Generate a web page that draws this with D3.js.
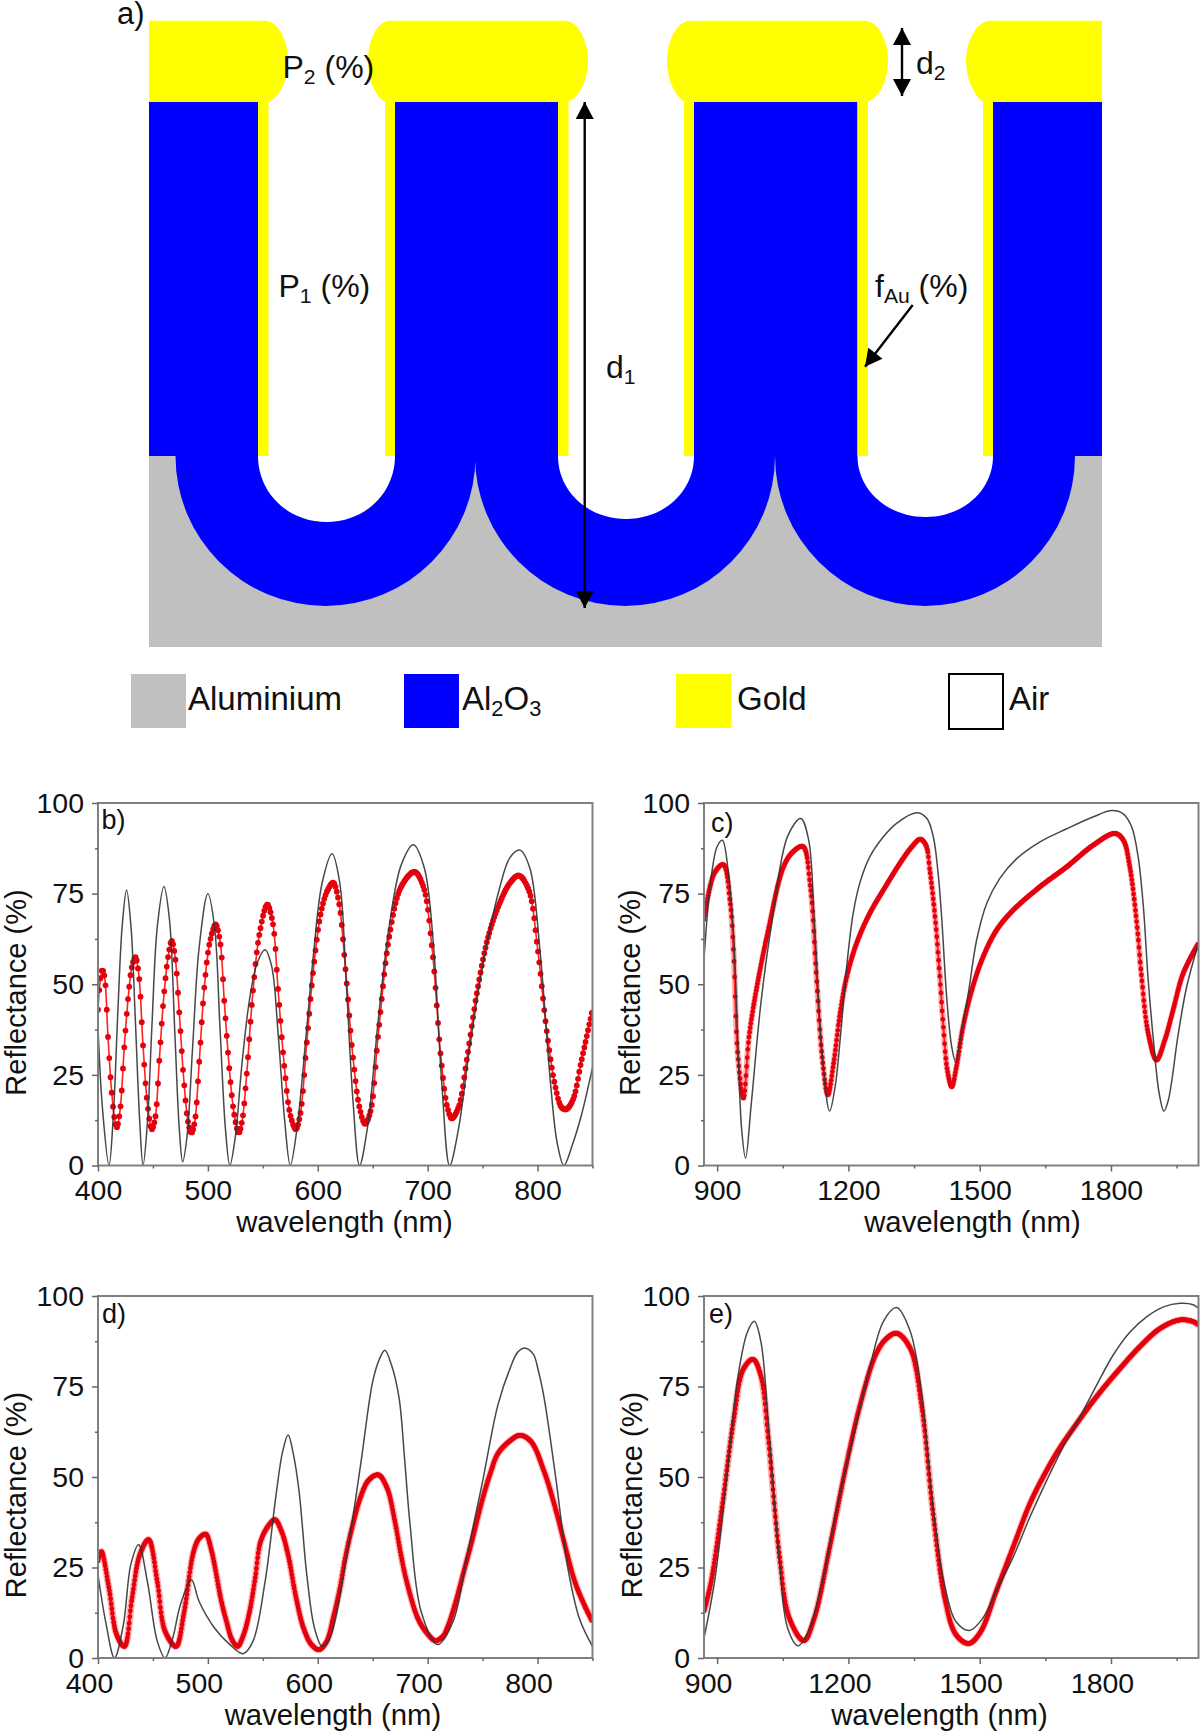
<!DOCTYPE html>
<html><head><meta charset="utf-8">
<script src="https://cdn.jsdelivr.net/npm/d3@7"></script>
<style>
html,body{margin:0;padding:0;background:#fff}
svg{display:block}
text{font-family:"Liberation Sans",Arial,sans-serif;fill:#111}
</style></head><body>
<svg id="c" width="1200" height="1735"></svg>
<script>
// ---- values: [wavelength nm, reflectance %]
const bBlack=[[400,38],[404,16],[410,0],[414,14],[418,42],[422,66],[426,76],[430,66],[434,40],[438,12],[441,0],[445,12],[449,38],[454,66],[460,77],[465,68],[470,36],[474,10],[477,1],[481,8],[486,32],[492,60],[500,75],[506,66],[511,38],[516,10],[520,0],[525,8],[531,28],[538,46],[545,56],[552,59.5],[558,55],[564,36],[570,12],[575,0],[581,10],[590,38],[596,58],[604,78],[613,86],[620,78],[626,50],[632,18],[638,0],[645,10],[655,40],[665,66],[676,83],[687,88.5],[697,82],[705,62],[713,22],[720,0],[728,10],[738,32],[750,55],[765,76],[775,85],[784,87],[793,82],[802,60],[812,22],[818,6],[824,0],[832,6],[840,14],[850,27]];
const bRed=[[400,43],[402,51],[404,54],[406,52],[409,36],[412,22],[415,13],[417,10.5],[420,15],[424,33],[428,48],[431,55],[434,57.5],[437,53],[441,33],[445,17],[449,10],[452,13],[456,30],[460,47],[464,58],[467,62],[470,58],[474,42],[478,24],[482,12],[485,9],[488,12],[492,28],[497,50],[502,62],[507,66.5],[511,62],[515,45],[520,25],[524,14],[528,9],[531,12],[535,24],[541,48],[547,64],[554,72],[559,67],[564,48],[570,26],[575,14],[580,10],[584,14],[590,34],[596,54],[603,70],[609,76],[614,78],[619,73],[625,55],[632,30],[638,16],[643,11.5],[648,15],[655,36],[665,63],[676,77],[688,81],[696,77],[704,60],[712,30],[718,16],[722,13],[728,16],[736,30],[745,48],[755,63],[765,72],[775,78],[783,80],[792,76],[800,60],[808,38],[816,22],[822,16],[826,15.5],[832,18],[840,29],[850,43]];
const cBlack=[[870,57],[885,78],[900,88],[912,89.7],[925,81.6],[938,63],[947,35.6],[956,10],[965,2],[978,17],[1000,44.8],[1026,67.8],[1061,90.8],[1091,95.7],[1109,89.9],[1122,67.8],[1140,31],[1157,15],[1170,22],[1181,34.6],[1196,54.8],[1211,69.6],[1226,77.9],[1249,85.2],[1280,90.7],[1310,94.4],[1356,97.3],[1379,95.8],[1394,90.7],[1405,80.6],[1413,68.6],[1425,45.7],[1436,32.8],[1445,28.6],[1459,37.4],[1474,47.5],[1493,62.2],[1516,72.3],[1546,79.2],[1584,84.6],[1638,89.3],[1699,92.9],[1760,96.2],[1802,97.9],[1828,97],[1847,93.5],[1862,85.2],[1874,71.4],[1885,51.2],[1897,34.6],[1910,20],[1921,15],[1931,18],[1954,36.5],[1973,49.3],[2000,61.3]];
const cRed=[[870,67.8],[894,80.7],[914,83],[930,72.4],[938,57.7],[947,31],[960,18.6],[973,35.6],[991,49.4],[1017,65],[1052,82.5],[1074,86.6],[1096,88],[1113,77],[1126,54],[1140,30],[1153,19.5],[1166,28],[1181,42],[1196,52],[1219,61.4],[1249,69.6],[1280,76],[1318,83.4],[1345,87.9],[1364,90],[1377,88.4],[1386,81.5],[1398,68.6],[1409,52],[1417,38.3],[1426,26.3],[1436,21.7],[1447,27.3],[1462,38.3],[1482,48.4],[1508,57.6],[1539,65],[1577,70.5],[1638,76.9],[1699,82.4],[1760,88.4],[1809,91.6],[1828,89.8],[1843,82.4],[1859,66.8],[1870,52],[1885,36.5],[1904,29.1],[1923,34.6],[1942,42.9],[1965,53],[2000,61.3]];
const dBlack=[[400,23],[407,10],[415,0],[423,9],[430,26],[437,31.3],[445,21],[454,4.6],[461,0],[468,5.5],[475,14.7],[485,21.6],[492,15.6],[506,8.3],[520,3.7],[532,1.2],[541,4.6],[552,21],[562,45],[568,57],[573,61.6],[578,56],[583,46],[590,23],[597,8.3],[604,3.2],[611,5.5],[625,25.8],[639,53.4],[650,76.4],[656,82.5],[661,85],[667,81],[674,71.8],[679,55],[684,36.8],[694,12.9],[709,3.7],[723,10],[736,28.5],[750,48.8],[764,70],[775,80],[782,84.5],[789,85.6],[796,84],[801,79],[806,71.8],[817,48.8],[827,25.8],[838,11],[850,3.2]];
const dRed=[[400,26.7],[403,29.4],[410,19.3],[417,6.4],[424,3.2],[431,16.6],[438,28.5],[446,32.7],[454,21],[461,7.4],[471,3.2],[478,12],[487,29.4],[492,33],[498,34.2],[503,30],[506,25.8],[512,16],[517,10],[522,5],[527,3.2],[532,6],[538,12.9],[543,22],[548,32.2],[555,36.5],[561,38.2],[567,35],[573,28.5],[580,17],[587,8.3],[594,3.8],[601,2.3],[608,4.5],[614,11],[620,19],[625,27.6],[632,37],[639,44.5],[646,49],[655,50.6],[663,47],[670,38],[676,28],[681,21],[691,11],[699,7],[707,4.8],[714,6],[719,9.2],[726,16],[733,24],[740,32],[750,44],[757,51],[764,56.5],[775,60],[784,61.5],[794,59.8],[806,51.5],[817,40.5],[825,31],[834,21],[842,15],[850,10]];
const eBlack=[[870,5.5],[894,21],[921,48.8],[947,77.3],[969,90],[985,93],[1000,87.4],[1017,65],[1043,25.8],[1061,8.3],[1085,3.4],[1109,7.4],[1140,21],[1175,42.3],[1210,60.7],[1245,78.2],[1280,93],[1310,96.8],[1341,90.3],[1367,73.6],[1393,42.3],[1420,20],[1446,10],[1477,7.6],[1507,11],[1539,18.8],[1577,28],[1615,39],[1653,49],[1691,58.4],[1729,66.6],[1767,75.3],[1805,83.7],[1843,90],[1882,94.3],[1920,97],[1958,98],[1988,97.6],[2000,96.6]];
const eRed=[[870,12.9],[886,20.9],[912,42.3],[938,66],[960,79.8],[982,82.5],[1000,77.9],[1017,60.7],[1043,27.6],[1065,11],[1098,4.8],[1122,11],[1157,30.4],[1192,51.5],[1227,70],[1262,83.7],[1285,88],[1310,89.7],[1341,85.6],[1367,70],[1393,40.5],[1420,16.6],[1446,6.4],[1475,4],[1501,7],[1539,18.8],[1577,30.8],[1615,42.7],[1653,51.8],[1683,58],[1722,64.8],[1767,72.2],[1821,80],[1866,86],[1912,91],[1958,93.4],[1988,92.9],[2000,92]];
const yTicks=[0,25,50,75,100], yMinor=[12.5,37.5,62.5,87.5];
const xTicksVis=[400,500,600,700,800], xMinorVis=[450,550,650,750,850];
const xTicksNir=[900,1200,1500,1800], xMinorNir=[1050,1350,1650,1950];
const domainVis=[400,850], domainNir=[870,2000];
const xTitle="wavelength (nm)", yTitle="Reflectance (%)";

const svg=d3.select("#c");
const defs=svg.append("defs");
defs.append("filter").attr("id","soft").attr("x","-2%").attr("y","-2%").attr("width","104%").attr("height","104%")
  .append("feGaussianBlur").attr("stdDeviation",0.55);

function rich(x,y,size,segs,anchor){
  const t=svg.append("text").attr("x",x).attr("y",y).attr("font-size",size).attr("text-anchor",anchor||"start").attr("xml:space","preserve");
  let low=false;
  segs.forEach(s=>{
    const sub=Array.isArray(s);
    const ts=t.append("tspan").text(sub?s[0]:s);
    if(sub){ts.attr("font-size",size*0.66).attr("dy",6);low=true;}
    else if(low){ts.attr("dy",-6);low=false;}
  });
}
function arrowHead(x,y,ang,len,w){
  const p=d3.path();
  p.moveTo(0,0);p.lineTo(-len,w/2);p.lineTo(-len,-w/2);p.closePath();
  svg.append("path").attr("d",p.toString()).attr("fill","#000").attr("transform",`translate(${x},${y}) rotate(${ang})`);
}
function arrow(x0,y0,x1,y1,both){
  svg.append("line").attr("x1",x0).attr("y1",y0).attr("x2",x1).attr("y2",y1).attr("stroke","#000").attr("stroke-width",2.4);
  const a=Math.atan2(y1-y0,x1-x0)*180/Math.PI;
  arrowHead(x1,y1,a,17,18);
  if(both) arrowHead(x0,y0,a+180,17,18);
}

// ---- panel a: schematic
const L=149,R=1102,T=20.7,M=102,J=456,B=647;
const GOLD="#ffff00",BLUE="#0000ff",GREY="#c0c0c0";
svg.append("rect").attr("x",L).attr("y",J).attr("width",R-L).attr("height",B-J).attr("fill",GREY);
svg.append("rect").attr("x",L).attr("y",M).attr("width",R-L).attr("height",J-M).attr("fill",BLUE);
const holes=[{c:325.5,hc:326.5,l:258,r:395,ry:66},{c:625,hc:626,l:558,r:694,ry:63},{c:925,hc:925.5,l:857.5,r:993,ry:61}];
const bump=d3.path();
holes.forEach(h=>{bump.moveTo(h.c-150,J);bump.arc(h.c,J,150,Math.PI,0,true);bump.closePath();});
svg.append("path").attr("d",bump.toString()).attr("fill",BLUE);
holes.forEach(h=>{
  const rx=(h.r-h.l)/2;
  svg.append("rect").attr("x",h.l).attr("y",M).attr("width",h.r-h.l).attr("height",J-M).attr("fill","#fff");
  const p=d3.path();
  p.moveTo(h.l,J);p.bezierCurveTo(h.l,J+h.ry*0.56,h.hc-rx*0.56,J+h.ry,h.hc,J+h.ry);
  p.bezierCurveTo(h.hc+rx*0.56,J+h.ry,h.r,J+h.ry*0.56,h.r,J);p.closePath();
  svg.append("path").attr("d",p.toString()).attr("fill","#fff");
  svg.append("rect").attr("x",h.l).attr("y",M).attr("width",10.5).attr("height",J-M).attr("fill",GOLD);
  svg.append("rect").attr("x",h.r-10).attr("y",M).attr("width",10).attr("height",J-M).attr("fill",GOLD);
});
function cap(x0,fl,fr,x1,bl,br){
  const p=d3.path(),my=60.5;
  if(fl===null){p.moveTo(x0,T);}else{p.moveTo(fl,T);}
  if(fr===null){p.lineTo(x1,T);p.lineTo(x1,M);}
  else{
    p.lineTo(fr,T);
    p.bezierCurveTo(fr+13,T,x1,T+20,x1,my);
    p.bezierCurveTo(x1,my+22,fr+13,M-4,br,M);
  }
  if(fl===null){p.lineTo(x0,M);}
  else{
    p.lineTo(bl,M);
    p.bezierCurveTo(fl-13,M-4,x0,my+22,x0,my);
    p.bezierCurveTo(x0,T+20,fl-13,T,fl,T);
  }
  p.closePath();
  svg.append("path").attr("d",p.toString()).attr("fill",GOLD);
}
cap(L,null,265,288,null,269);
cap(368,390,565,588,385,568);
cap(667,690,865,888,685,867.5);
cap(966,990,null,R,983,null);

arrow(584.7,608,584.7,102,true);
arrow(902,28,902,96,true);
arrow(912.7,305,865,366.7);

rich(117,24,31,["a)"]);
rich(282.5,78,32,["P",["2"]," (%)"]);
rich(278.5,297,32,["P",["1"]," (%)"]);
rich(875,297,32,["f",["Au"]," (%)"]);
rich(916,74,32,["d",["2"]]);
rich(606,378,32,["d",["1"]]);

// legend
const legend=[{x:131,f:GREY,t:["Aluminium"],tx:188},{x:404,f:BLUE,t:["Al",["2"],"O",["3"]],tx:462},{x:676,f:GOLD,t:["Gold"],tx:737},{x:948,f:"#fff",s:"#000",t:["Air"],tx:1009}];
legend.forEach(l=>{
  svg.append("rect").attr("x",l.x+(l.s?1:0)).attr("y",674).attr("width",l.s?54:55).attr("height",l.s?55:54)
    .attr("fill",l.f).attr("stroke",l.s||"none").attr("stroke-width",l.s?2:0);
  rich(l.tx,710,33,l.t);
});

// ---- panels b-e
const panels=[
 {name:"b)",black:bBlack,red:bRed,dom:domainVis,ticks:xTicksVis,minor:xMinorVis,x0:98,x1:592.5,y0:1165.5,y1:803,shift:0,lx:101.5,ly:829,ytx:25.5,ytc:992.5,xtc:344.5,xty:1231.7,step:1.25,lw:1.6,r:2.9,halo:0},
 {name:"c)",black:cBlack,red:cRed,dom:domainNir,ticks:xTicksNir,minor:xMinorNir,x0:704,x1:1198.5,y0:1165.5,y1:803,shift:0,lx:711,ly:832,ytx:640,ytc:992.5,xtc:972.5,xty:1231.7,step:0.6,lw:2,r:2.4,halo:6},
 {name:"d)",black:dBlack,red:dRed,dom:domainVis,ticks:xTicksVis,minor:xMinorVis,x0:98,x1:592.5,y0:1658,y1:1296,shift:-9,lx:102,ly:1323,ytx:25.5,ytc:1495,xtc:333,xty:1725,step:0.6,lw:3,r:2.4,halo:7},
 {name:"e)",black:eBlack,red:eRed,dom:domainNir,ticks:xTicksNir,minor:xMinorNir,x0:704,x1:1198.5,y0:1658,y1:1296,shift:-9,lx:709,ly:1323,ytx:642,ytc:1495,xtc:939.5,xty:1725,step:0.6,lw:3,r:2.4,halo:7}
];
const AX="#808080",FS='"Liberation Sans",Arial,sans-serif';
panels.forEach((p,i)=>{
  const x=d3.scaleLinear().domain(p.dom).range([p.x0,p.x1]);
  const y=d3.scaleLinear().domain([0,100]).range([p.y0,p.y1]);
  const line=d3.line().x(d=>x(d[0])).y(d=>y(d[1])).curve(d3.curveCatmullRom.alpha(0.5));
  const id="clip"+i;
  defs.append("clipPath").attr("id",id).append("rect").attr("x",p.x0).attr("y",p.y1).attr("width",p.x1-p.x0).attr("height",p.y0-p.y1);
  const g=svg.append("g").attr("clip-path",`url(#${id})`).append("g").attr("filter","url(#soft)");
  if(p.halo) g.append("path").attr("d",line(p.red)).attr("fill","none").attr("stroke","#ff1010").attr("stroke-width",p.halo).attr("stroke-opacity",0.3);
  const rp=g.append("path").attr("d",line(p.red)).attr("fill","none").attr("stroke","#ff2020").attr("stroke-width",p.lw);
  // dots fall at equal wavelength steps along the drawn curve
  const node=rp.node(),len=node.getTotalLength(),dots=[];
  let nx=p.x0;
  for(let s=0;s<=len;s+=0.4){
    const q=node.getPointAtLength(s);
    if(q.x>=nx){dots.push(q);nx+=p.step;}
  }
  g.selectAll("circle").data(dots).join("circle").attr("cx",d=>d.x).attr("cy",d=>d.y).attr("r",p.r).attr("fill","#e4000f");
  g.append("path").attr("d",line(p.black)).attr("fill","none").attr("stroke","#333").attr("stroke-width",1.5).attr("stroke-opacity",0.9);

  svg.append("rect").attr("x",p.x0).attr("y",p.y1).attr("width",p.x1-p.x0).attr("height",p.y0-p.y1)
    .attr("fill","none").attr("stroke",AX).attr("stroke-width",2);

  const ax=svg.append("g").attr("transform",`translate(0,${p.y0})`)
    .call(d3.axisBottom(x).tickValues(p.ticks).tickFormat(d3.format("d")).tickSize(6).tickPadding(8.5));
  const ay=svg.append("g").attr("transform",`translate(${p.x0},0)`)
    .call(d3.axisLeft(y).tickValues(yTicks).tickSize(6).tickPadding(8));
  const mx=svg.append("g").attr("transform",`translate(0,${p.y0})`).call(d3.axisBottom(x).tickValues(p.minor).tickFormat("").tickSize(3));
  const my=svg.append("g").attr("transform",`translate(${p.x0},0)`).call(d3.axisLeft(y).tickValues(yMinor).tickFormat("").tickSize(3));
  [ax,ay,mx,my].forEach(a=>{a.select(".domain").remove();a.selectAll("line").attr("stroke","#666").attr("stroke-width",1.5);
    a.selectAll("text").attr("font-size",28.5).attr("font-family",FS).attr("fill","#111");});
  ax.selectAll("text").attr("dx",p.shift);

  svg.append("text").attr("x",p.lx).attr("y",p.ly).attr("font-size",27).text(p.name);
  svg.append("text").attr("x",p.xtc).attr("y",p.xty).attr("font-size",29.3).attr("text-anchor","middle").text(xTitle);
  svg.append("text").attr("font-size",29).attr("text-anchor","middle")
    .attr("transform",`translate(${p.ytx},${p.ytc}) rotate(-90)`).text(yTitle);
});
</script></body></html>
